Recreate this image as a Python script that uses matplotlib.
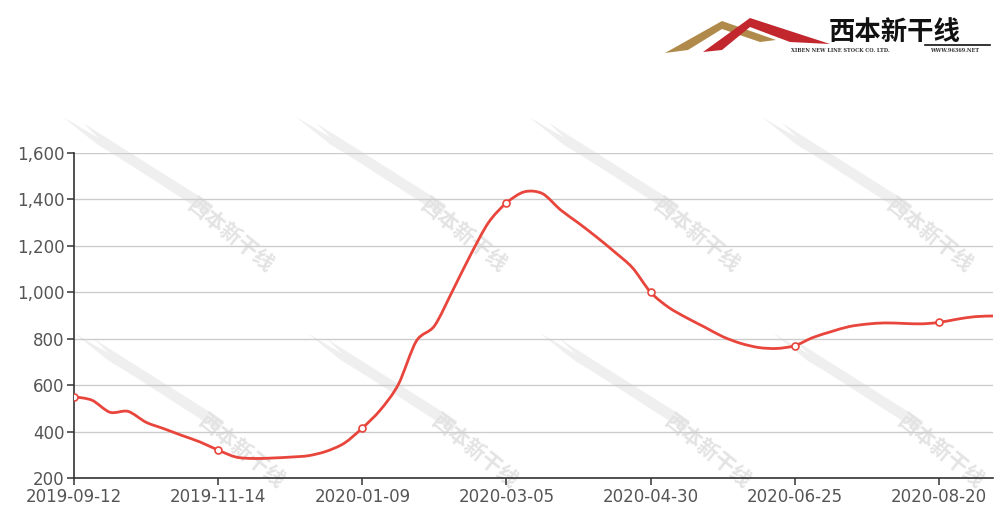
import numpy as np
import matplotlib.pyplot as plt
from matplotlib.patches import Polygon, PathPatch
from matplotlib.path import Path

plt.rcParams['font.family'] = ['DejaVu Sans', 'Noto Sans CJK SC']

# weekly price, category axis
prices = [550, 535, 483, 487, 440, 412, 383, 355, 320, 290,
          284, 286, 290, 296, 315, 350, 415, 493, 603, 790,
          855, 1005, 1160, 1300, 1385, 1433, 1425, 1355, 1298, 1238,
          1174, 1105, 1000, 935, 890, 850, 809, 780, 762, 758,
          770, 805, 830, 852, 863, 868, 866, 864, 870, 884,
          895, 898]
tick_idx = [0, 8, 16, 24, 32, 40, 48]
tick_labels = ['2019-09-12', '2019-11-14', '2020-01-09', '2020-03-05',
               '2020-04-30', '2020-06-25', '2020-08-20']
y_ticks = [200, 400, 600, 800, 1000, 1200, 1400, 1600]


def smooth_path(xs, ys, k=0.3):
    """Bezier path through every point (catmull-rom style handles)."""
    xs = np.asarray(xs, float)
    ys = np.asarray(ys, float)
    n = len(xs)
    verts = [(xs[0], ys[0])]
    codes = [Path.MOVETO]
    for i in range(n - 1):
        p0 = max(i - 1, 0)
        p3 = min(i + 2, n - 1)
        c1 = (xs[i] + k * (xs[i + 1] - xs[p0]) / 2,
              ys[i] + k * (ys[i + 1] - ys[p0]) / 2)
        c2 = (xs[i + 1] - k * (xs[p3] - xs[i]) / 2,
              ys[i + 1] - k * (ys[p3] - ys[i]) / 2)
        verts += [c1, c2, (xs[i + 1], ys[i + 1])]
        codes += [Path.CURVE4] * 3
    return Path(verts, codes)


W, H = 997, 507
fig = plt.figure(figsize=(W / 100, H / 100), dpi=100)
fig.patch.set_facecolor('white')

# background layer in pixel coordinates: watermarks + logo
bg = fig.add_axes([0, 0, 1, 1], zorder=0)
bg.set_xlim(0, W)
bg.set_ylim(H, 0)
bg.axis('off')

wm_color = '#efefef'
for x0, y0 in [(63, 117), (296, 117), (529, 117), (762, 117),
               (74, 333), (307, 333), (540, 333), (773, 333)]:
    a = [(0, 0), (105, 62), (112, 74), (35, 28)]
    b = [(20, 6), (150, 88), (145, 98), (55, 40)]
    for pts in (a, b):
        bg.add_patch(Polygon([(x0 + px, y0 + py) for px, py in pts],
                             closed=True, color=wm_color, lw=0))
    bg.text(x0 + 168, y0 + 118, '西本新干线', fontsize=15, color='#e3e3e3',
            rotation=-39, ha='center', va='center', fontweight='bold',
            family=['Noto Sans CJK SC'])

# logo
bg.add_patch(Polygon([(665, 53), (722, 21), (776, 40), (760, 42),
                      (722, 29), (688, 50)], closed=True, color='#b08a4a', lw=0))
bg.add_patch(Polygon([(703, 52), (750, 18), (830, 44), (790, 42),
                      (750, 27), (722, 50)], closed=True, color='#c1272d', lw=0))
bg.text(895, 32, '西本新干线', fontsize=19, color='#111111', fontweight='heavy',
        ha='center', va='center', family=['Noto Sans CJK SC'])
bg.plot([925, 990], [45, 45], color='#111111', lw=1.2)
bg.text(840, 51, 'XIBEN NEW LINE STOCK CO. LTD.', fontsize=3.6, color='#333333',
        ha='center', va='center', family=['DejaVu Serif'], fontweight='bold')
bg.text(955, 51, 'WWW.96369.NET', fontsize=3.6, color='#333333',
        ha='center', va='center', family=['DejaVu Serif'], fontweight='bold')

# main chart
ax = fig.add_axes([74 / W, 1 - 478 / H, (993 - 74) / W, (478 - 153) / H], zorder=1)
ax.set_facecolor('none')
x = np.arange(len(prices))
ax.add_patch(PathPatch(smooth_path(x, prices), facecolor='none',
                       edgecolor='#e8453c', lw=2, zorder=3))
ax.plot(x[tick_idx], np.asarray(prices)[tick_idx], 'o', zorder=4, markersize=5,
        markerfacecolor='white', markeredgecolor='#e8453c', markeredgewidth=1.2)

ax.set_xlim(0, len(prices) - 1)
ax.set_ylim(200, 1600)
ax.set_yticks(y_ticks)
ax.set_yticklabels([f'{v:,}' for v in y_ticks])
ax.set_xticks(tick_idx)
ax.set_xticklabels(tick_labels)
ax.grid(axis='y', color='#cccccc', lw=1)
ax.set_axisbelow(True)

for s in ('top', 'right'):
    ax.spines[s].set_visible(False)
for s in ('left', 'bottom'):
    ax.spines[s].set_color('#333333')
    ax.spines[s].set_linewidth(1.2)
ax.tick_params(axis='both', colors='#333333', labelcolor='#555555',
               labelsize=12, length=5, width=1.1, pad=2)

fig.savefig('out.png', dpi=100)
